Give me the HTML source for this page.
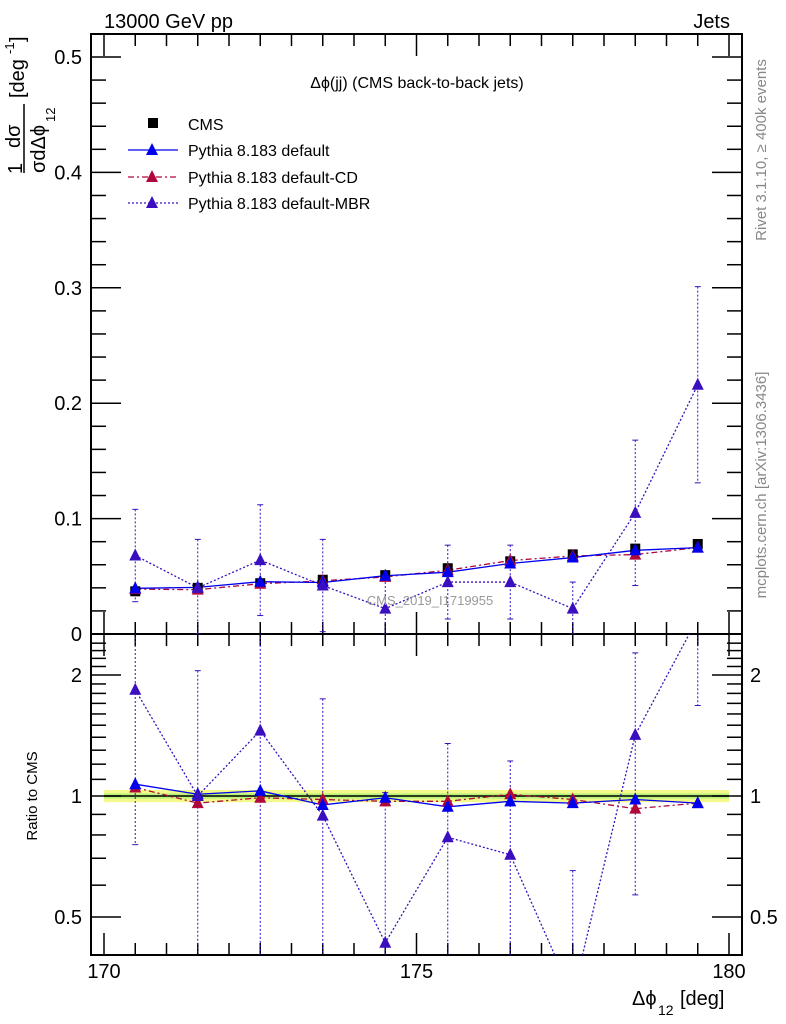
<!DOCTYPE html>
<html><head><meta charset="utf-8"><style>
html,body{margin:0;padding:0;background:#fff;width:786px;height:1024px;overflow:hidden;position:relative;}
svg{display:block;font-family:"Liberation Sans",sans-serif;}
</style></head><body>
<svg id="c" width="786" height="1024" viewBox="0 0 786 1024" style="position:absolute;left:0;top:0"></svg>
<script>
const xCenters=[170.5,171.5,172.5,173.5,174.5,175.5,176.5,177.5,178.5,179.5];
const cmsVals=[0.037,0.040,0.044,0.047,0.051,0.057,0.063,0.069,0.074,0.078];
const defRatio=[1.07,1.01,1.03,0.95,0.99,0.94,0.97,0.96,0.98,0.96];
const cdRatio=[1.05,0.96,0.99,0.98,0.97,0.97,1.01,0.98,0.93,0.96];
const mbrVals=[0.068,0.040,0.064,0.042,0.022,0.045,0.045,0.022,0.105,0.216];
const mbrErr=[0.040,0.042,0.048,0.040,0.030,0.032,0.032,0.023,0.063,0.085];
const topTicks=[0,0.1,0.2,0.3,0.4,0.5];
const ratioTicks=[0.5,1,2];
const xTicks=[170,175,180];

const NS="http://www.w3.org/2000/svg";
const svg=document.getElementById('c');
function el(tag,attrs,parent,txt){const e=document.createElementNS(NS,tag);for(const k in attrs)e.setAttribute(k,attrs[k]);if(txt!==undefined)e.textContent=txt;(parent||svg).appendChild(e);return e;}
const L=91,R=742,T=34,M=634,B=955;
const sx=v=>104+(v-170)*62.5;
const sy=v=>634-v*1154;
const ry=v=>796-Math.log2(v)*121;

const defs=el('defs',{});
const c1=el('clipPath',{id:'ct'},defs);el('rect',{x:L,y:T,width:R-L,height:M-T},c1);
const c2=el('clipPath',{id:'cr'},defs);el('rect',{x:L,y:M,width:R-L,height:B-M},c2);

const band=el('rect',{x:sx(170),y:ry(1.035),width:sx(180)-sx(170),height:ry(0.965)-ry(1.035),fill:'#f3f98a'});


el('rect',{x:sx(170),y:ry(1.015),width:sx(180)-sx(170),height:ry(0.985)-ry(1.015),fill:'#b9f27a'});
el('line',{x1:sx(170),x2:sx(180),y1:ry(1),y2:ry(1),stroke:'#000','stroke-width':1.5});

el('rect',{x:L,y:T,width:R-L,height:M-T,fill:'none',stroke:'#000','stroke-width':2,});
el('rect',{x:L,y:M,width:R-L,height:B-M,fill:'none',stroke:'#000','stroke-width':2,});

for(let v=170;v<=180.001;v+=0.5){
  const major=Math.abs(v%5)<0.01;const len=major?22:12;const x=sx(v);
  [[T,1],[M,-1],[M,1],[B,-1]].forEach(([y,d])=>el('line',{x1:x,x2:x,y1:y,y2:y+d*len,stroke:'#000','stroke-width':1.5}));
}
xTicks.forEach(v=>{const t=el('text',{x:sx(v),y:978,'text-anchor':'middle','font-size':20},svg,String(v));

});
for(let i=0;i<=26;i++){const v=i*0.02;const y=sy(v);if(y<T)continue;const major=i%5===0;const len=major?30:15;
  el('line',{x1:L,x2:L+len,y1:y,y2:y,stroke:'#000','stroke-width':1.5});el('line',{x1:R,x2:R-len,y1:y,y2:y,stroke:'#000','stroke-width':1.5});}
topTicks.forEach(v=>{const t=el('text',{x:82,y:sy(v)+7,'text-anchor':'end','font-size':20},svg,String(v));

});
[0.4,0.5,0.6,0.7,0.8,0.9,1,1.1,1.2,1.3,1.4,1.5,1.6,1.7,1.8,1.9,2,2.1,2.2,2.3,2.4].forEach(v=>{const y=ry(v);if(y<M||y>B)return;const major=ratioTicks.includes(v);const len=major?30:15;
  el('line',{x1:L,x2:L+len,y1:y,y2:y,stroke:'#000','stroke-width':1.5});el('line',{x1:R,x2:R-len,y1:y,y2:y,stroke:'#000','stroke-width':1.5});});
ratioTicks.forEach(v=>{const y=ry(v)+7;
  const a=el('text',{x:82,y:y,'text-anchor':'end','font-size':20},svg,String(v));
  
  
  const b=el('text',{x:750,y:y,'font-size':20},svg,String(v));
  
  });

function tri(g,x,y,col){el('polygon',{points:`${x-6},${y+5} ${x+6},${y+5} ${x},${y-7}`,fill:col},g);}
const gT=el('g',{'clip-path':'url(#ct)'});
const gR=el('g',{'clip-path':'url(#cr)'});
const mbrCol='#3a0fbf';
xCenters.forEach((x,i)=>{const X=sx(x);const y1=sy(mbrVals[i]+mbrErr[i]),y2=sy(Math.max(0,mbrVals[i]-mbrErr[i]));
  el('line',{x1:X,x2:X,y1:y1,y2:y2,stroke:mbrCol,'stroke-dasharray':'2,2'},gT);
  el('line',{x1:X-3,x2:X+3,y1:y1,y2:y1,stroke:mbrCol},gT);el('line',{x1:X-3,x2:X+3,y1:y2,y2:y2,stroke:mbrCol},gT);});
function line(g,xs,ys,col,dash,name){const p=el('polyline',{points:xs.map((x,i)=>sx(x)+','+ys[i]).join(' '),fill:'none',stroke:col,'stroke-width':1.3,'stroke-dasharray':dash},g);

}
line(gT,xCenters,mbrVals.map(sy),mbrCol,'2,2','mbr-line');
line(gT,xCenters,cdRatio.map((r,i)=>sy(r*cmsVals[i])),'#b0083a','6,3,2,3','cd-line');
line(gT,xCenters,defRatio.map((r,i)=>sy(r*cmsVals[i])),'#0000ee','','default-line');
xCenters.forEach((x,i)=>{const X=sx(x);const s=el('rect',{x:X-5,y:sy(cmsVals[i])-5,width:10,height:10,fill:'#000'},gT);
  
  
  tri(gT,X,sy(cdRatio[i]*cmsVals[i]),'#b0083a');tri(gT,X,sy(defRatio[i]*cmsVals[i]),'#0000ee');tri(gT,X,sy(mbrVals[i]),mbrCol);});
const mbrR=mbrVals.map((v,i)=>v/cmsVals[i]);
xCenters.forEach((x,i)=>{const X=sx(x);const e=mbrErr[i]/cmsVals[i];const y1=ry(mbrR[i]+e),y2=ry(Math.max(0.05,mbrR[i]-e));
  el('line',{x1:X,x2:X,y1:y1,y2:y2,stroke:mbrCol,'stroke-dasharray':'2,2'},gR);
  el('line',{x1:X-3,x2:X+3,y1:y1,y2:y1,stroke:mbrCol},gR);el('line',{x1:X-3,x2:X+3,y1:y2,y2:y2,stroke:mbrCol},gR);});
line(gR,xCenters,mbrR.map(ry),mbrCol,'2,2','mbr-ratio-line');
line(gR,xCenters,cdRatio.map(ry),'#b0083a','6,3,2,3','cd-ratio-line');
line(gR,xCenters,defRatio.map(ry),'#0000ee','','default-ratio-line');
xCenters.forEach((x,i)=>{const X=sx(x);tri(gR,X,ry(cdRatio[i]),'#b0083a');tri(gR,X,ry(defRatio[i]),'#0000ee');tri(gR,X,ry(mbrR[i]),mbrCol);});
</script>
<svg style="position:absolute;left:0;top:0" width="786" height="1024">
<g font-family="Liberation Sans, sans-serif">
<text x="104" y="28" font-size="20">13000 GeV pp</text>
<text x="730" y="28" font-size="20" text-anchor="end">Jets</text>
<text x="417" y="88" font-size="16" text-anchor="middle">Δϕ(jj) (CMS back-to-back jets)</text>
<g font-size="16">
<rect x="148" y="118" width="10" height="10" fill="#000"/>
<text x="188" y="130">CMS</text>
<line x1="128" x2="178" y1="150" y2="150" stroke="#0000ee" stroke-width="1.3"/><polygon points="146,155 158,155 152,143" fill="#0000ee"/>
<text x="188" y="156">Pythia 8.183 default</text>
<line x1="128" x2="178" y1="177" y2="177" stroke="#b0083a" stroke-width="1.3" stroke-dasharray="6,3,2,3"/><polygon points="146,182 158,182 152,170" fill="#b0083a"/>
<text x="188" y="183">Pythia 8.183 default-CD</text>
<line x1="128" x2="178" y1="203" y2="203" stroke="#3a0fbf" stroke-width="1.3" stroke-dasharray="2,2"/><polygon points="146,208 158,208 152,196" fill="#3a0fbf"/>
<text x="188" y="209">Pythia 8.183 default-MBR</text>
</g>
<text x="430" y="605" font-size="13" fill="#999" text-anchor="middle">CMS_2019_I1719955</text>
<text transform="translate(766,150) rotate(-90)" font-size="15" fill="#888" text-anchor="middle">Rivet 3.1.10, ≥ 400k events</text>
<text transform="translate(766,485) rotate(-90)" font-size="15" fill="#888" text-anchor="middle">mcplots.cern.ch [arXiv:1306.3436]</text>
<g font-size="20" transform="translate(0,200) rotate(-90)">
<text x="26" y="22">1</text>
<line x1="27" x2="96" y1="24" y2="24" stroke="#000" stroke-width="1.5"/>
<text x="52" y="20">dσ</text>
<text x="27" y="45">σdΔϕ</text>
<text x="78" y="55" font-size="13">12</text>
<text x="102" y="24">[deg</text>
<text x="146" y="14" font-size="13">-1</text>
<text x="158" y="24">]</text>
</g>
<text transform="translate(37,796) rotate(-90)" font-size="15" text-anchor="middle">Ratio to CMS</text>
<g font-size="20">
<text x="632" y="1005">Δϕ</text>
<text x="658" y="1015" font-size="14">12</text>
<text x="680" y="1005">[deg]</text>
</g>
</g></svg>
</body></html>
